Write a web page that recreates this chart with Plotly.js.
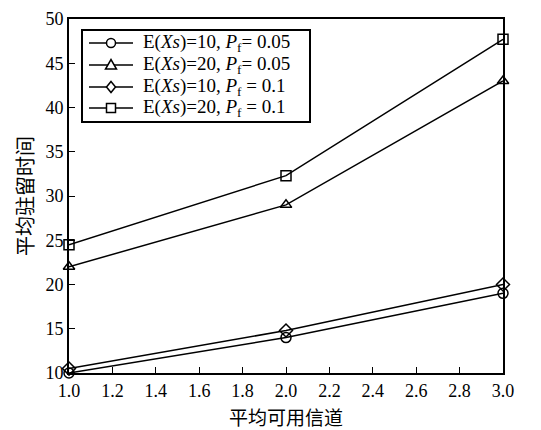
<!DOCTYPE html>
<html><head><meta charset="utf-8">
<script src="https://cdn.plot.ly/plotly-3.0.1.min.js"></script>
<style>body{margin:0;background:#fff}</style>
</head><body>
<div id="chart" style="width:541px;height:430px"></div>
<script>
const channels = [1.0, 2.0, 3.0];
const s1 = [10, 14, 19];      // E(Xs)=10, Pf=0.05
const s2 = [22, 29, 43];      // E(Xs)=20, Pf=0.05
const s3 = [10.5, 14.8, 20];  // E(Xs)=10, Pf=0.1
const s4 = [24.5, 32.3, 47.7];// E(Xs)=20, Pf=0.1
const names = [
  'E(<i>Xs</i>)=10, <i>P</i><sub>f</sub>= 0.05',
  'E(<i>Xs</i>)=20, <i>P</i><sub>f</sub>= 0.05',
  'E(<i>Xs</i>)=10, <i>P</i><sub>f</sub> = 0.1',
  'E(<i>Xs</i>)=20, <i>P</i><sub>f</sub> = 0.1'
];
const symbols = ['circle-open', 'triangle-up-open', 'diamond-open', 'square-open'];
const series = [s1, s2, s3, s4];
const traces = series.map((s, i) => ({
  x: channels, y: s, name: names[i], type: 'scatter', mode: 'lines+markers',
  line: {color: '#000', width: 1.5},
  marker: {symbol: symbols[i], size: 10, color: '#000', line: {width: 1.5, color: '#000'}},
  cliponaxis: false, showlegend: false
}));

// plot-area geometry (pixels) used to place the hand-drawn legend
const L = 69, R = 503, T = 19, B = 373;
const px = v => (v - L) / (R - L);
const py = v => (B - v) / (B - T);

const shapes = [];
const annotations = [];
// legend box
shapes.push({type: 'rect', xref: 'paper', yref: 'paper', x0: px(82), x1: px(310), y0: py(122), y1: py(30),
             line: {color: '#000', width: 2}, fillcolor: '#fff', layer: 'above'});
const rowY = [43, 65, 87, 108];
const mx = 111, r = 4.5;
rowY.forEach((yy, i) => {
  shapes.push({type: 'line', xref: 'paper', yref: 'paper', x0: px(89), x1: px(133), y0: py(yy), y1: py(yy),
               line: {color: '#000', width: 1.5}, layer: 'above'});
  const m = {xref: 'paper', yref: 'paper', line: {color: '#000', width: 1.5}, fillcolor: '#fff', layer: 'above'};
  if (i === 0) Object.assign(m, {type: 'circle', x0: px(mx - r), x1: px(mx + r), y0: py(yy + r), y1: py(yy - r)});
  if (i === 1) Object.assign(m, {type: 'path', path: `M${px(mx - 5.5)},${py(yy + 4)} L${px(mx + 5.5)},${py(yy + 4)} L${px(mx)},${py(yy - 5.5)} Z`});
  if (i === 2) Object.assign(m, {type: 'path', path: `M${px(mx)},${py(yy - 5.5)} L${px(mx + 4.5)},${py(yy)} L${px(mx)},${py(yy + 5.5)} L${px(mx - 4.5)},${py(yy)} Z`});
  if (i === 3) Object.assign(m, {type: 'rect', x0: px(mx - 4.5), x1: px(mx + 4.5), y0: py(yy + 4.5), y1: py(yy - 4.5)});
  shapes.push(m);
  annotations.push({xref: 'paper', yref: 'paper', x: px(141), y: py(yy), xanchor: 'left', yanchor: 'middle',
                    text: names[i], showarrow: false,
                    font: {family: 'Liberation Serif, Times New Roman, serif', size: 19, color: '#000'}});
});

const serif = 'Liberation Serif, Times New Roman, serif';
const cjk = 'Noto Sans CJK SC, sans-serif';
const layout = {
  width: 541, height: 430,
  margin: {l: 69, r: 38, t: 19, b: 57},
  paper_bgcolor: '#fff', plot_bgcolor: '#fff',
  font: {family: serif, size: 17, color: '#000'},
  showlegend: false,
  shapes: shapes, annotations: annotations,
  xaxis: {range: [1, 3], dtick: 0.2, tick0: 1, tickformat: '.1f', ticks: 'inside', ticklen: 6,
          tickcolor: '#000', showline: true, linecolor: '#000', linewidth: 2, mirror: true,
          showgrid: false, zeroline: false, tickfont: {family: serif, size: 18, color: '#000'},
          title: {text: '平均可用信道', font: {family: cjk, size: 19, color: '#000'}, standoff: 12}},
  yaxis: {range: [10, 50], dtick: 5, ticks: 'inside', ticklen: 6,
          tickcolor: '#000', showline: true, linecolor: '#000', linewidth: 2, mirror: true,
          showgrid: false, zeroline: false, tickfont: {family: serif, size: 18, color: '#000'},
          title: {text: '平均驻留时间', font: {family: cjk, size: 20, color: '#000'}, standoff: 6}}
};
Plotly.newPlot('chart', traces, layout, {staticPlot: true});
</script>
</body></html>
